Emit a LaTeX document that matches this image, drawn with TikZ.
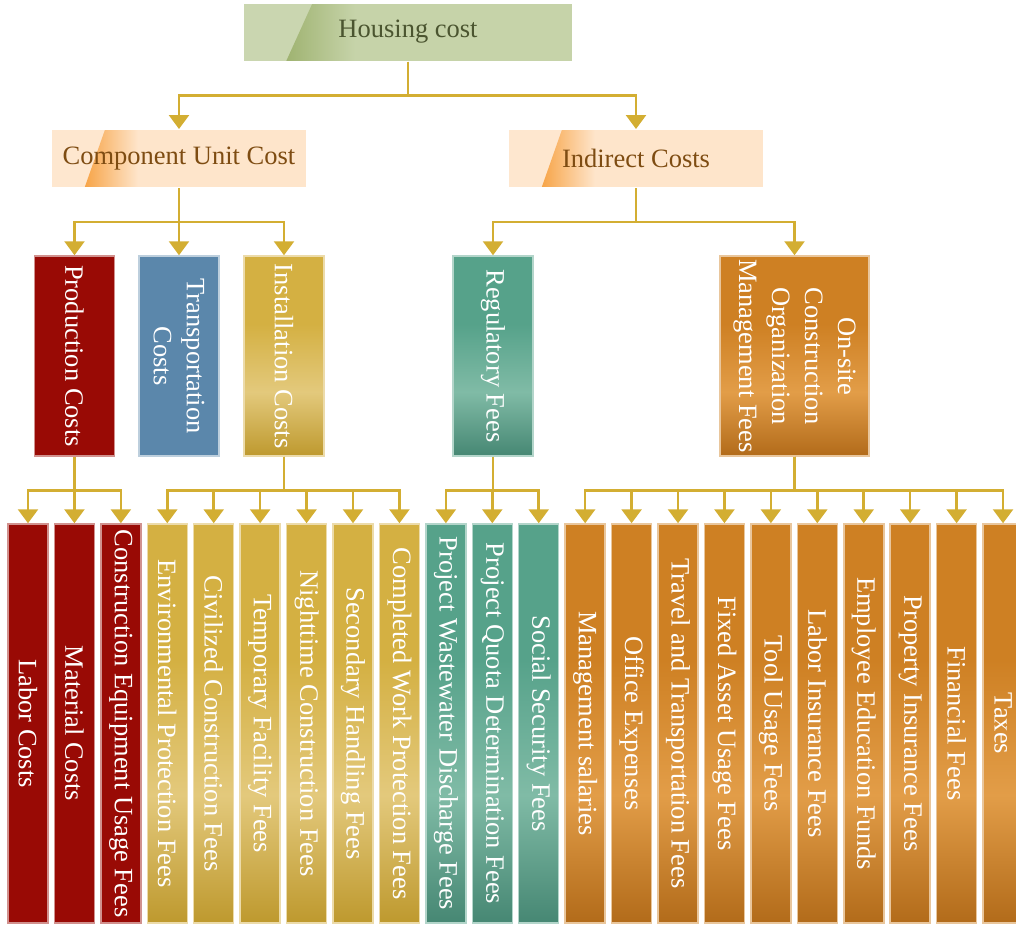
\documentclass[tikz,border=0pt]{standalone}
\usepackage{fontspec}
\setmainfont{Liberation Serif}
\usetikzlibrary{arrows.meta,calc}

\definecolor{linkgold}{HTML}{D3AE32}
\definecolor{greenbase}{HTML}{C6D3A9}
\definecolor{greendark}{HTML}{9FB371}
\definecolor{greentext}{HTML}{4B5530}
\definecolor{peachbase}{HTML}{FEE5CB}
\definecolor{peachdark}{HTML}{F7A447}
\definecolor{peachtext}{HTML}{7E4C12}
\definecolor{redfill}{HTML}{990A05}
\definecolor{bluefill}{HTML}{5B87AB}
\definecolor{goldbase}{HTML}{D4B042}
\definecolor{goldlight}{HTML}{E3C97C}
\definecolor{golddark}{HTML}{BE992E}
\definecolor{tealbase}{HTML}{56A28A}
\definecolor{teallight}{HTML}{80BBA6}
\definecolor{tealdark}{HTML}{468773}
\definecolor{orangebase}{HTML}{CE8023}
\definecolor{orangelight}{HTML}{E29D48}
\definecolor{orangedark}{HTML}{B26B1A}

% slanted band on the top boxes, fading to the right
\pgfdeclarehorizontalshading{greenband}{100bp}{color(0bp)=(greendark); color(25bp)=(greendark); color(37bp)=(greenbase); color(100bp)=(greenbase)}
\pgfdeclarehorizontalshading{peachband}{100bp}{color(0bp)=(peachdark); color(25bp)=(peachdark); color(37bp)=(peachbase); color(100bp)=(peachbase)}
% glossy bars, dark at the bottom, light band low down
\pgfdeclareverticalshading{goldshade}{100bp}{color(0bp)=(golddark); color(25bp)=(golddark); color(41bp)=(goldlight); color(58bp)=(goldbase); color(75bp)=(goldbase); color(100bp)=(goldbase)}
\pgfdeclareverticalshading{tealshade}{100bp}{color(0bp)=(tealdark); color(25bp)=(tealdark); color(41bp)=(teallight); color(58bp)=(tealbase); color(75bp)=(tealbase); color(100bp)=(tealbase)}
\pgfdeclareverticalshading{orangeshade}{100bp}{color(0bp)=(orangedark); color(25bp)=(orangedark); color(41bp)=(orangelight); color(58bp)=(orangebase); color(75bp)=(orangebase); color(100bp)=(orangebase)}

\tikzset{
  link/.style={draw=linkgold, line width=2.6pt, -{Triangle[width=20pt,length=14pt]}},
  band/.style={path picture={
    \coordinate (bt) at ($(path picture bounding box.north west)!0.21!(path picture bounding box.north east)$);
    \coordinate (bb) at ($(path picture bounding box.south west)!0.13!(path picture bounding box.south east)$);
    \fill[#1base!92!white] (path picture bounding box.north west) -- (bt) -- (bb)
      -- (path picture bounding box.south west) -- cycle;
    \shade[shading=#1band] (bt) -- (path picture bounding box.north east)
      -- (path picture bounding box.south east) -- (bb) -- cycle;
  }},
  topbox/.style={minimum width=255pt, minimum height=58pt, inner sep=0pt, draw=white, line width=1pt,
    font=\fontsize{26.5}{30}\selectfont},
  greenbox/.style={topbox, fill=greenbase, text=greentext, band=green},
  peachbox/.style={topbox, fill=peachbase, text=peachtext, band=peach},
  midbox/.style={minimum width=80pt, minimum height=200pt, inner sep=0pt, line width=1.5pt},
  leaf/.style={minimum width=40pt, minimum height=399pt, inner sep=0pt, line width=1.5pt},
  redbar/.style={fill=redfill, draw=redfill!45!white},
  bluebar/.style={fill=bluefill, draw=bluefill!40!white},
  goldbar/.style={shading=goldshade, draw=goldbase!45!white},
  tealbar/.style={shading=tealshade, draw=tealbase!45!white},
  orangebar/.style={shading=orangeshade, draw=orangebase!45!white},
  vtext/.style={rotate=-90, text=white, inner sep=0pt, align=center,
    font=\fontsize{26.5}{33}\selectfont},
}

\begin{document}
\begin{tikzpicture}[x=1pt, y=-1pt]
  \useasboundingbox (0,0) rectangle (1016,927);

  % top levels
  \node[greenbox, minimum width=329pt] (house) at (408,32) {Housing cost};
  \node[peachbox] (unit) at (179,158.5) {Component Unit Cost};
  \node[peachbox] (indirect) at (636,158.5) {Indirect Costs};

  % second level
  \node[midbox, redbar, label={[vtext]center:Production Costs}] (prod) at (74.5,356) {};
  \node[midbox, bluebar, label={[vtext]center:Transportation\\Costs}] (trans) at (179,356) {};
  \node[midbox, goldbar, label={[vtext]center:Installation Costs}] (inst) at (284,356) {};
  \node[midbox, tealbar, label={[vtext]center:Regulatory Fees}] (reg) at (493,356) {};
  \node[midbox, orangebar, minimum width=149pt,
    label={[vtext]center:On-site\\Construction\\Organization\\Management Fees}] (onsite) at (794.5,356) {};

  % leaves
  \foreach \txt/\kind [count=\i from 0] in {
    Labor Costs/redbar, Material Costs/redbar, Construction Equipment Usage Fees/redbar,
    Environmental Protection Fees/goldbar, Civilized Construction Fees/goldbar,
    Temporary Facility Fees/goldbar, Nighttime Construction Fees/goldbar,
    Secondary Handling Fees/goldbar, Completed Work Protection Fees/goldbar,
    Project Wastewater Discharge Fees/tealbar, Project Quota Determination Fees/tealbar,
    Social Security Fees/tealbar,
    Management salaries/orangebar, Office Expenses/orangebar,
    Travel and Transportation Fees/orangebar, Fixed Asset Usage Fees/orangebar,
    Tool Usage Fees/orangebar, Labor Insurance Fees/orangebar,
    Employee Education Funds/orangebar, Property Insurance Fees/orangebar,
    Financial Fees/orangebar, Taxes/orangebar}
    \node[leaf, \kind, label={[vtext]center:\txt}] (leaf\i) at ({28+46.43*\i},723.5) {};

  % connectors
  \foreach \c in {unit,indirect}
    \draw[link] (house.south) -- ++(0,34) -| (\c.north);
  \foreach \c in {prod,trans,inst}
    \draw[link] (unit.south) -- ++(0,34) -| (\c.north);
  \foreach \c in {reg,onsite}
    \draw[link] (indirect.south) -- ++(0,34) -| (\c.north);
  \foreach \i in {0,...,2}
    \draw[link] (prod.south) -- ++(0,34) -| (leaf\i.north);
  \foreach \i in {3,...,8}
    \draw[link] (inst.south) -- ++(0,34) -| (leaf\i.north);
  \foreach \i in {9,...,11}
    \draw[link] (reg.south) -- ++(0,34) -| (leaf\i.north);
  \foreach \i in {12,...,21}
    \draw[link] (onsite.south) -- ++(0,34) -| (leaf\i.north);
\end{tikzpicture}
\end{document}
